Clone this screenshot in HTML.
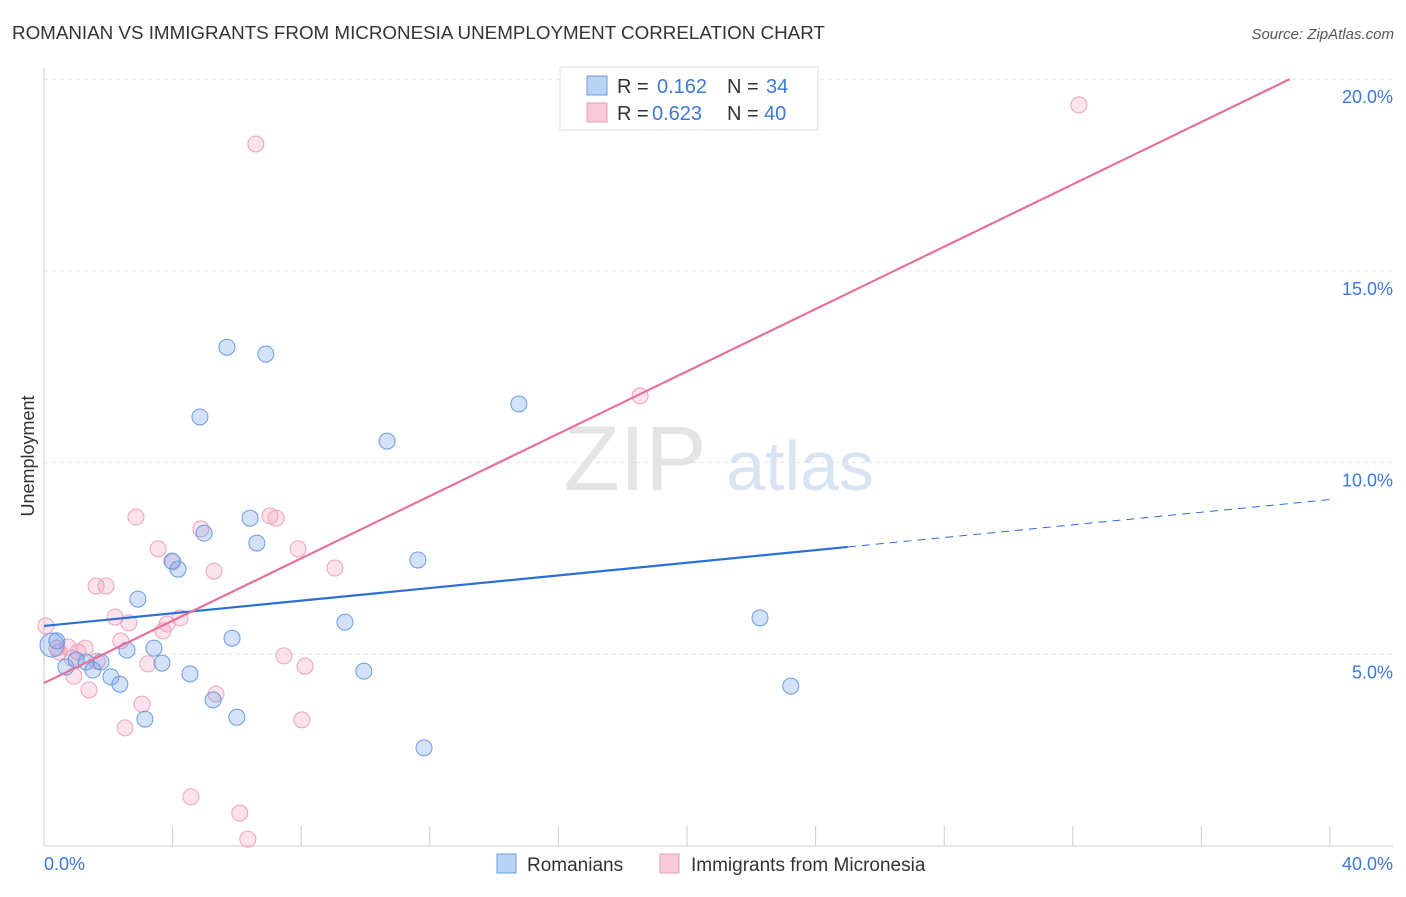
<!DOCTYPE html>
<html><head><meta charset="utf-8"><style>
body{margin:0;background:#fff;font-family:"Liberation Sans",sans-serif;}
svg text{font-family:"Liberation Sans",sans-serif;}
</style></head><body>
<svg id="chart" width="1406" height="892" xmlns="http://www.w3.org/2000/svg">
<text x="12" y="39" font-size="18.8" fill="#333">ROMANIAN VS IMMIGRANTS FROM MICRONESIA UNEMPLOYMENT CORRELATION CHART</text>
<text x="1394" y="39" font-size="15" fill="#555" text-anchor="end" font-style="italic">Source: ZipAtlas.com</text>
<g>
<text x="635" y="490" font-size="92" fill="#e4e4e4" text-anchor="middle" font-family="Liberation Serif">ZIP</text>
<text x="800" y="490" font-size="70" fill="#d8e4f4" text-anchor="middle">atlas</text>
</g>
<g id="grid"></g>
<g id="axes"></g>
<g id="marks"></g>
<text transform="translate(34,456) rotate(-90)" font-size="18" fill="#333" text-anchor="middle">Unemployment</text>
<g>
<rect x="560" y="67" width="258" height="63" fill="#fff" stroke="#ddd"/>
<rect x="587" y="76" width="20" height="19" fill="#b9d3f5" stroke="#6a9be0"/>
<text x="617" y="93" font-size="20" fill="#333">R = </text><text x="657" y="93" font-size="20" fill="#3b78d8">0.162</text>
<text x="727" y="93" font-size="20" fill="#333">N = </text><text x="766" y="93" font-size="20" fill="#3b78d8">34</text>
<rect x="587" y="103" width="20" height="19" fill="#f8c9d8" stroke="#e8a0b8"/>
<text x="617" y="120" font-size="20" fill="#333">R = </text><text x="652" y="120" font-size="20" fill="#3b78d8">0.623</text>
<text x="727" y="120" font-size="20" fill="#333">N = </text><text x="764" y="120" font-size="20" fill="#3b78d8">40</text>
</g>
<g>
<rect x="497" y="854" width="19" height="19" fill="#b9d3f5" stroke="#6a9be0"/>
<text x="527" y="871" font-size="19" fill="#333">Romanians</text>
<rect x="660" y="854" width="19" height="19" fill="#f8c9d8" stroke="#e8a0b8"/>
<text x="691" y="871" font-size="19" fill="#333">Immigrants from Micronesia</text>
</g>
</svg>
<script>
const blueX=[0.25,0.40,0.68,1.00,1.31,1.52,1.77,2.08,2.36,2.58,2.92,3.14,3.42,3.67,3.98,4.17,4.54,4.85,4.98,5.26,5.69,5.85,6.00,6.41,6.62,6.90,9.36,9.95,10.67,11.63,11.82,14.77,22.27,23.23];
const blueY=[5.24,5.35,4.67,4.85,4.80,4.59,4.80,4.41,4.22,5.11,6.44,3.31,5.16,4.77,7.43,7.22,4.49,11.19,8.16,3.81,13.01,5.42,3.36,8.55,7.90,12.83,5.84,4.56,10.56,7.46,2.56,11.53,5.95,4.17];
const pinkX=[0.06,0.40,0.75,1.06,1.28,1.40,1.65,0.93,1.62,1.93,2.21,2.39,2.52,2.64,2.86,3.05,3.23,3.55,3.70,3.83,4.01,4.23,4.57,4.88,5.29,5.35,6.09,6.34,6.59,7.03,7.22,7.46,7.90,8.02,8.12,9.05,18.54,32.19,0.47,0.87];
const pinkY=[5.74,5.16,5.19,5.06,5.16,4.07,4.82,4.43,6.78,6.78,5.97,5.35,3.08,5.82,8.58,3.70,4.75,7.75,5.61,5.79,7.41,5.95,1.28,8.27,7.17,3.96,0.86,0.18,18.31,8.61,8.55,4.96,7.75,3.29,4.69,7.25,11.74,19.33,5.06,4.90];
const yTicks=[5,10,15,20];
const yTickLabels=["5.0%","10.0%","15.0%","20.0%"];
const xTicks=[0,4,8,12,16,20,24,28,32,36,40];
const blueTrend=[5.74,0.0824,25];
const pinkTrend=[4.25,0.4065,38.75];
const NS="http://www.w3.org/2000/svg";
const sx=v=>44+v/40*1286, sy=v=>846-v/5*191.7;
function mk(p,t,a){const e=document.createElementNS(NS,t);for(const k in a)e.setAttribute(k,a[k]);p.appendChild(e);return e;}
const grid=document.getElementById('grid'),axes=document.getElementById('axes'),marks=document.getElementById('marks');
yTicks.forEach((t,i)=>{
 const l=mk(grid,'line',{x1:44,x2:1393,y1:sy(t),y2:sy(t),stroke:'#e2e2e2','stroke-dasharray':'4,4'});
 
 
 const tx=mk(axes,'text',{x:1393,y:sy(t)+24,'font-size':18,fill:'#3b78d8','text-anchor':'end'});
 tx.textContent=yTickLabels[i];
 
 
});
let a=mk(axes,'line',{x1:44,x2:44,y1:68,y2:846,stroke:'#ccc'});


a=mk(axes,'line',{x1:44,x2:1393,y1:846,y2:846,stroke:'#ccc'});


xTicks.forEach(t=>{
 const l=mk(axes,'line',{x1:sx(t),x2:sx(t),y1:826,y2:846,stroke:'#ccc'});
 
 
});
let t0=mk(axes,'text',{x:44,y:870,'font-size':18,fill:'#3b78d8'});t0.textContent='0.0%';


let t1=mk(axes,'text',{x:1393,y:870,'font-size':18,fill:'#3b78d8','text-anchor':'end'});t1.textContent='40.0%';


function pts(X,Y,fill,stroke,name){X.forEach((x,i)=>{
 const c=mk(marks,'circle',{cx:sx(x),cy:sy(Y[i]),r:i===0&&name==='romanian-point'?12:8,fill:fill,stroke:stroke,'stroke-width':1});
 
 
});}
pts(pinkX,pinkY,'rgba(244,160,190,0.3)','#eaa3bb','micronesia-point');
pts(blueX,blueY,'rgba(110,160,235,0.3)','#6a9be0','romanian-point');
let bl=mk(marks,'line',{x1:sx(0),y1:sy(blueTrend[0]),x2:sx(blueTrend[2]),y2:sy(blueTrend[0]+blueTrend[1]*blueTrend[2]),stroke:'#2a6fd6','stroke-width':2.2});


let bd=mk(marks,'line',{x1:sx(blueTrend[2]),y1:sy(blueTrend[0]+blueTrend[1]*blueTrend[2]),x2:sx(40),y2:sy(blueTrend[0]+blueTrend[1]*40),stroke:'#2a6fd6','stroke-width':1,'stroke-dasharray':'8,6'});


let pl=mk(marks,'line',{x1:sx(0),y1:sy(pinkTrend[0]),x2:sx(pinkTrend[2]),y2:sy(pinkTrend[0]+pinkTrend[1]*pinkTrend[2]),stroke:'#e5729a','stroke-width':2.2});


</script>
</body></html>
